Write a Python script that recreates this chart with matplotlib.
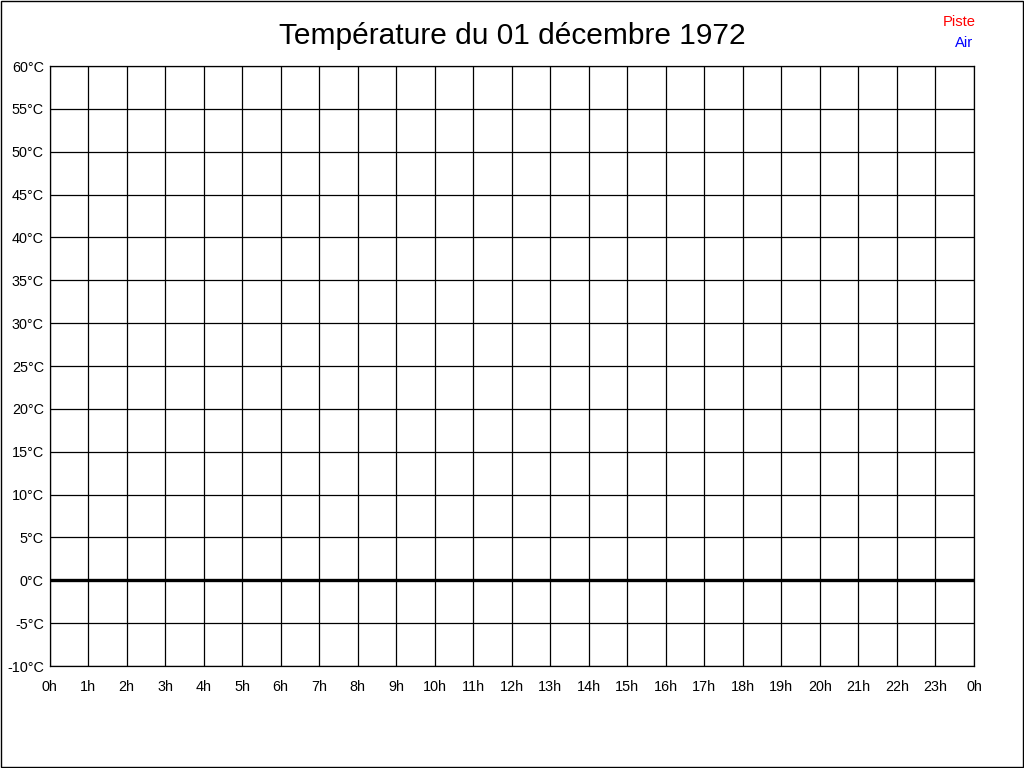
import matplotlib
matplotlib.use("Agg")
import matplotlib.pyplot as plt
from matplotlib.patches import Rectangle

plt.rcParams['font.family'] = ['Liberation Sans', 'DejaVu Sans']

title = "Température du 01 décembre 1972"
hours = list(range(25))
hour_labels = [f"{h % 24}h" for h in hours]
temp_ticks = list(range(-10, 61, 5))
temp_labels = [f"{t}°C" for t in temp_ticks]

# aucune mesure ce jour-là
piste_hours = []
piste_temps = []
air_hours = []
air_temps = []

fig = plt.figure(figsize=(10.24, 7.68), dpi=100)
ax = fig.add_axes([49.5 / 1024, 1 - 666 / 768, (974 - 49.5) / 1024, 600 / 768])

ax.plot(piste_hours, piste_temps, color='red')
ax.plot(air_hours, air_temps, color='blue')

ax.set_xlim(0, 24)
ax.set_ylim(-10, 60)
ax.set_xticks(hours)
ax.set_xticklabels(hour_labels)
ax.set_yticks(temp_ticks)
ax.set_yticklabels(temp_labels)
ax.tick_params(axis='y', length=0, labelsize=10.4, pad=4)
ax.tick_params(axis='x', length=0, labelsize=10.4, pad=10)
ax.grid(True, color='black', linewidth=0.9)
ax.axhline(0, color='black', linewidth=2.4)
for s in ax.spines.values():
    s.set_linewidth(0.9)

fig.text(0.5, 1 - 36 / 768, title, ha='center', va='center', fontsize=21.5)
fig.text(976 / 1024, 1 - 22 / 768, "Piste", color='red', ha='right', va='center', fontsize=10.6)
fig.text(973 / 1024, 1 - 43 / 768, "Air", color='blue', ha='right', va='center', fontsize=10.6)

fig.patches.append(Rectangle((0.5 / 1024, 1.5 / 768), 1022 / 1024, 766 / 768,
                             transform=fig.transFigure, fill=False, edgecolor='black', linewidth=1))

fig.savefig("out.png", dpi=100)
